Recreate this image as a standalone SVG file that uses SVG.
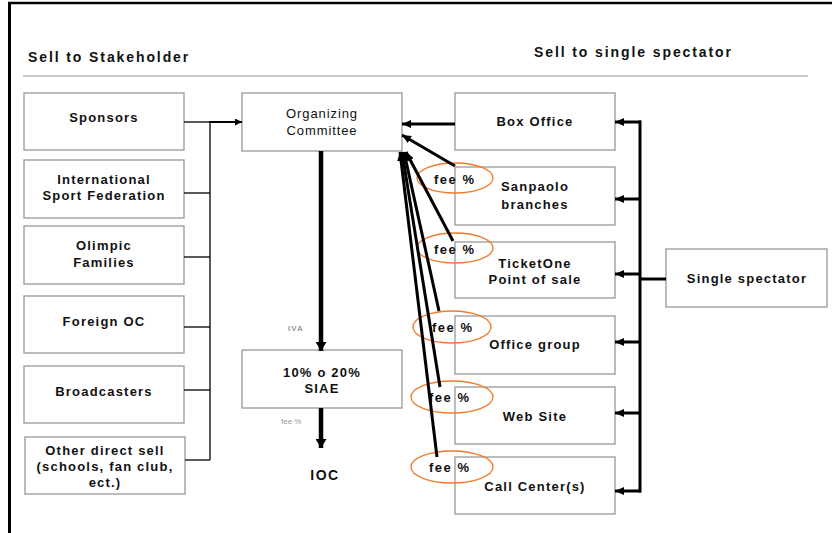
<svg xmlns="http://www.w3.org/2000/svg" width="832" height="533" viewBox="0 0 832 533">
<style>
.bg{fill:#fff}
.box{fill:#fff;stroke:#999;stroke-width:1.3}
.t{font-family:"Liberation Sans",Arial,sans-serif;font-size:13px;font-weight:bold;letter-spacing:1.2px;fill:#111;text-anchor:middle}
.tn{font-family:"Liberation Sans",Arial,sans-serif;font-size:13px;letter-spacing:0.9px;fill:#111;text-anchor:middle}
.h{font-family:"Liberation Sans",Arial,sans-serif;font-size:14px;font-weight:bold;letter-spacing:1.9px;fill:#111}
.fee{font-family:"Liberation Sans",Arial,sans-serif;font-size:13px;font-weight:bold;letter-spacing:1.5px;fill:#111}
.small{font-family:"Liberation Sans",Arial,sans-serif;font-size:8px;fill:#999}
.ell{fill:none;stroke:#f27a2a;stroke-width:1.3}
.thin{fill:none;stroke:#000;stroke-width:1.3}
.thick{fill:none;stroke:#000;stroke-width:3}
.heavy{fill:none;stroke:#000;stroke-width:4.5}
</style>
<defs>
<marker id="ah" markerUnits="userSpaceOnUse" markerWidth="10" markerHeight="8" refX="9" refY="4" orient="auto">
<path d="M0,0 L9,4 L0,8 Z" fill="#000"/>
</marker>
<marker id="ahs" markerUnits="userSpaceOnUse" markerWidth="8" markerHeight="7" refX="7" refY="3.5" orient="auto">
<path d="M0,0 L7,3.5 L0,7 Z" fill="#000"/>
</marker>
<marker id="ahb" markerUnits="userSpaceOnUse" markerWidth="10" markerHeight="11" refX="9" refY="5.5" orient="auto">
<path d="M0,0 L9,5.5 L0,11 Z" fill="#000"/>
</marker>
</defs>
<rect class="bg" x="0" y="0" width="832" height="533"/>
<g id="frame">
<line x1="8" y1="3" x2="832" y2="3" stroke="#000" stroke-width="2.5"/>
<line x1="9.5" y1="2" x2="9.5" y2="533" stroke="#000" stroke-width="3"/>
<line x1="23" y1="76" x2="808" y2="76" stroke="#999" stroke-width="1"/>
</g>
<g id="headers">
<text class="h" x="28" y="62">Sell to Stakeholder</text>
<text class="h" x="534" y="57">Sell to single spectator</text>
</g>
<g id="sponsors"><rect class="box" x="24" y="93" width="160" height="57"/><text class="t" x="104" y="122">Sponsors</text></g>
<g id="isf"><rect class="box" x="24" y="160" width="160" height="58"/><text class="t" x="104" y="184">International</text><text class="t" x="104" y="200">Sport Federation</text></g>
<g id="olimpic"><rect class="box" x="24" y="226" width="160" height="58"/><text class="t" x="104" y="250">Olimpic</text><text class="t" x="104" y="267">Families</text></g>
<g id="foreign"><rect class="box" x="24" y="296" width="160" height="57"/><text class="t" x="104" y="326">Foreign OC</text></g>
<g id="broadcasters"><rect class="box" x="24" y="366" width="160" height="57"/><text class="t" x="104" y="396">Broadcasters</text></g>
<g id="other"><rect class="box" x="25" y="437" width="160" height="57"/><text class="t" x="105" y="455">Other direct sell</text><text class="t" x="105" y="471">(schools, fan club,</text><text class="t" x="105" y="487">ect.)</text></g>
<g id="oc"><rect class="box" x="242" y="93" width="160" height="58"/><text class="tn" x="322" y="118">Organizing</text><text class="tn" x="322" y="135">Committee</text></g>
<g id="siae"><rect class="box" x="242" y="350" width="160" height="58"/><text class="t" x="322" y="377">10% o 20%</text><text class="t" x="322" y="393">SIAE</text></g>
<g id="ioc"><text class="t" x="325" y="480" style="font-size:14px;letter-spacing:1.5px">IOC</text></g>
<g id="labels">
<text class="small" x="288" y="331" style="font-weight:bold;letter-spacing:1px">IVA</text>
<text class="small" x="281" y="424">fee %</text>
</g>
<g id="boxoffice"><rect class="box" x="455" y="93" width="160" height="57"/><text class="t" x="535" y="126">Box Office</text></g>
<g id="sanpaolo"><rect class="box" x="455" y="167" width="160" height="58"/><text class="t" x="535" y="191">Sanpaolo</text><text class="t" x="535" y="209">branches</text></g>
<g id="ticketone"><rect class="box" x="455" y="242" width="160" height="56"/><text class="t" x="535" y="268">TicketOne</text><text class="t" x="535" y="284">Point of sale</text></g>
<g id="office"><rect class="box" x="455" y="316" width="160" height="58"/><text class="t" x="535" y="349">Office group</text></g>
<g id="website"><rect class="box" x="455" y="387" width="160" height="57"/><text class="t" x="535" y="421">Web Site</text></g>
<g id="callcenter"><rect class="box" x="455" y="457" width="160" height="57"/><text class="t" x="535" y="491">Call Center(s)</text></g>
<g id="single"><rect class="box" x="666" y="249" width="161" height="58"/><text class="t" x="747" y="283">Single spectator</text></g>
<g id="fees">
<ellipse class="ell" cx="455" cy="178" rx="38" ry="15"/><text class="fee" x="434" y="184">fee %</text>
<ellipse class="ell" cx="455" cy="248" rx="38" ry="15"/><text class="fee" x="434" y="254">fee %</text>
<ellipse class="ell" cx="452" cy="327" rx="39" ry="16"/><text class="fee" x="432" y="332">fee %</text>
<ellipse class="ell" cx="452" cy="397" rx="41" ry="16"/><text class="fee" x="429" y="402">fee %</text>
<ellipse class="ell" cx="452" cy="467" rx="41" ry="16"/><text class="fee" x="429" y="472">fee %</text>
</g>
<g id="connectors">
<line class="thin" x1="210" y1="122" x2="210" y2="460"/>
<line class="thin" x1="184" y1="122" x2="210" y2="122"/>
<line class="thin" x1="184" y1="193" x2="210" y2="193"/>
<line class="thin" x1="184" y1="257" x2="210" y2="257"/>
<line class="thin" x1="184" y1="327" x2="210" y2="327"/>
<line class="thin" x1="184" y1="390" x2="210" y2="390"/>
<line class="thin" x1="185" y1="460" x2="210" y2="460"/>
<line x1="209" y1="122" x2="242" y2="122" stroke="#000" stroke-width="2" marker-end="url(#ahs)"/>
<line class="heavy" x1="321" y1="151" x2="321" y2="351" marker-end="url(#ahb)"/>
<line class="heavy" x1="321" y1="408" x2="321" y2="448" marker-end="url(#ahb)"/>
<line class="thick" x1="455" y1="124" x2="402" y2="124" marker-end="url(#ah)"/>
<line class="thick" x1="640" y1="120.5" x2="640" y2="492.5"/>
<line class="thick" x1="666" y1="279" x2="640" y2="279"/>
<line class="thick" x1="641" y1="122" x2="615" y2="122" marker-end="url(#ah)"/>
<line class="thick" x1="641" y1="199" x2="615" y2="199" marker-end="url(#ah)"/>
<line class="thick" x1="641" y1="274" x2="615" y2="274" marker-end="url(#ah)"/>
<line class="thick" x1="641" y1="342" x2="615" y2="342" marker-end="url(#ah)"/>
<line class="thick" x1="641" y1="413" x2="615" y2="413" marker-end="url(#ah)"/>
<line class="thick" x1="641" y1="491" x2="615" y2="491" marker-end="url(#ah)"/>
<line class="thick" x1="455" y1="166" x2="402" y2="135" marker-end="url(#ah)"/>
<line class="thick" x1="453" y1="241" x2="406" y2="152" marker-end="url(#ah)"/>
<line class="thick" x1="439" y1="311" x2="404" y2="152" marker-end="url(#ah)"/>
<line class="thick" x1="440" y1="387" x2="402" y2="152" marker-end="url(#ah)"/>
<line class="thick" x1="437" y1="457" x2="400" y2="152" marker-end="url(#ah)"/>
</g>
</svg>
